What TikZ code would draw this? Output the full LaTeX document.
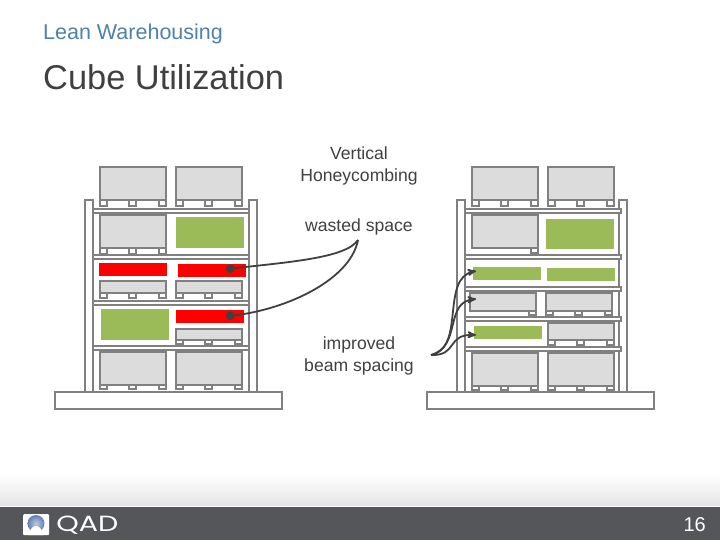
\documentclass[tikz,border=0pt]{standalone}
\usepackage{fontspec}
\setmainfont{Liberation Sans}
\newfontfamily\logofont{Poppins}
\usetikzlibrary{arrows}
\definecolor{rackgray}{HTML}{808080}
\definecolor{cratefill}{HTML}{DCDCDC}
\definecolor{spacegreen}{HTML}{9BBB59}
\definecolor{inkgray}{HTML}{404040}
\definecolor{headblue}{HTML}{4F81AD}
\definecolor{barGray}{HTML}{54565A}
\definecolor{ballblue}{HTML}{5F7FB5}
\tikzset{
	frame/.style={draw=rackgray,line width=2pt,fill=white},
	crate/.style={draw=rackgray,line width=2pt,fill=cratefill,inner sep=0pt,anchor=north west,minimum width=66pt},
	block/.style={inner sep=0pt,anchor=north west,minimum width=68pt},
	label/.style={text=inkgray,font=\fontsize{17.6}{22}\selectfont,align=center,inner sep=0pt},
	wastearrow/.style={-*,>=stealth',draw=inkgray,line width=1.8pt,shorten >=-1pt},
	gainarrow/.style={->,>=stealth',draw=inkgray,line width=1.8pt}
}
% feet under a crate: left, middle, right
\newcommand{\feet}[2]{
	\draw[frame] ([xshift=1pt,yshift=1pt]#1.south west) rectangle ++(7,#2);
	\draw[frame] ([xshift=30pt,yshift=1pt]#1.south west) rectangle ++(7,#2);
	\draw[frame] ([xshift=-8pt,yshift=1pt]#1.south east) rectangle ++(7,#2);
}
\newcommand{\crateat}[5]{
	\node[crate,minimum height=#4pt-2pt] (#1) at (#2+0.5,#3) {};
	\feet{#1}{#5}
}
\newcommand{\beam}[2]{\draw[frame] (#1+8,#2) rectangle ++(156,4);}
\begin{document}
\begin{tikzpicture}[x=1pt,y=-1pt]
	\useasboundingbox (0,0) rectangle (720,540);

	\node[anchor=west,inner sep=0pt,text=headblue,font=\fontsize{21.5}{24}\selectfont] (section) at (43,33.5) {Lean Warehousing};
	\node[anchor=west,inner sep=0pt,text=inkgray,font=\fontsize{34.4}{38}\selectfont] (title) at (43,77.5) {Cube Utilization};

	% left rack
	\draw[frame] (85,200) rectangle (93,392);
	\draw[frame] (249,200) rectangle (257,392);
	\crateat{la}{98}{166}{35}{6}
	\crateat{lb}{174}{166}{35}{6}
	\crateat{lc}{98}{214}{35}{6}
	\beam{85}{209}
	\beam{85}{255}
	\beam{85}{301}
	\beam{85}{346}
	\node[block,fill=spacegreen,minimum height=31pt] (lgreenone) at (176,217) {};
	\node[block,fill=red,minimum height=13pt] (lredone) at (99,263) {};
	\node[block,fill=red,minimum height=13pt] (lredtwo) at (178,264) {};
	\crateat{ld}{98}{280}{14}{5}
	\crateat{le}{174}{280}{14}{5}
	\node[block,fill=spacegreen,minimum height=31pt] (lgreentwo) at (101,309) {};
	\node[block,fill=red,minimum height=13pt] (lredthree) at (176,310) {};
	\crateat{lf}{174}{328}{13}{4}
	\crateat{lg}{98}{351}{35}{4}
	\crateat{lh}{174}{351}{35}{4}
	\draw[frame] (55,392) rectangle (282,409);

	% right rack
	\draw[frame] (457,200) rectangle (465,392);
	\draw[frame] (619,200) rectangle (627,392);
	\crateat{ra}{470}{166}{35}{6}
	\crateat{rb}{546}{166}{35}{6}
	\node[crate,minimum height=33pt] (rc) at (470.5,214) {};
	\draw[frame] ([xshift=-8pt,yshift=1pt]rc.south east) rectangle ++(7,5);
	\beam{457}{209}
	\beam{457}{255}
	\beam{457}{287}
	\beam{457}{317}
	\beam{457}{347}
	\node[block,fill=spacegreen,minimum height=30pt] (rgreenone) at (546,219) {};
	\node[block,fill=spacegreen,minimum height=13pt] (rgreentwo) at (473,267) {};
	\node[block,fill=spacegreen,minimum height=13pt] (rgreenthree) at (547,268) {};
	\node[crate,minimum height=18pt] (rd) at (468.5,292) {};
	\draw[frame] ([xshift=-8pt,yshift=1pt]rd.south east) rectangle ++(7,4);
	\crateat{re}{544}{292}{20}{4}
	\node[block,fill=spacegreen,minimum height=13pt] (rgreenfour) at (474,326) {};
	\crateat{rf}{546}{322}{19}{5}
	\crateat{rg}{470}{352}{35}{4}
	\crateat{rh}{546}{352}{35}{4}
	\draw[frame] (427,392) rectangle (654,409);

	% labels
	\node[label] (vertical) at (359,165.5) {Vertical\\Honeycombing};
	\node[label] (wasted) at (359,226.5) {wasted space};
	\node[label] (improved) at (359,355.5) {improved\\beam spacing};

	% connector ends
	\coordinate (wastetail) at (358,240);
	\coordinate (wasteone) at (227,269);
	\coordinate (wastetwo) at (227,316);
	\coordinate (gaintail) at (431,355);
	\coordinate (gainone) at (476,271);
	\coordinate (gaintwo) at (476,299);
	\coordinate (gainthree) at (476,335);

	\draw[wastearrow] (wastetail) .. controls (346,258) and (290,262) .. (wasteone);
	\draw[wastearrow] (wastetail) .. controls (350,282) and (280,312) .. (wastetwo);
	\draw[gainarrow] (gaintail) .. controls (466,348) and (440,278) .. (gainone);
	\draw[gainarrow] (gaintail) .. controls (462,346) and (444,302) .. (gaintwo);
	\draw[gainarrow] (gaintail) .. controls (458,356) and (446,334) .. (gainthree);

	% footer
	\shade[top color=white,bottom color=black!10] (0,474) rectangle (720,505);
	\fill[barGray] (0,507) rectangle (720,540);
	\node[fill=white,inner sep=0pt,minimum width=26pt,minimum height=21pt,anchor=north west,rounded corners=1pt] (logo) at (23,514) {};
	\shade[inner color=ballblue!40,outer color=ballblue] (36,523.5) circle (8.5);
	\fill[white] (28,535) .. controls (31,528) and (33,526) .. (36,526) .. controls (39,526) and (41,528) .. (44,535) -- cycle;
	\node[anchor=west,inner sep=0pt,text=white,font=\logofont\fontsize{22}{24}\selectfont,xscale=1.3] (qad) at (56,525) {QAD};
	\node[anchor=east,inner sep=0pt,text=white,font=\fontsize{20}{24}\selectfont] (page) at (706,524.5) {16};
\end{tikzpicture}
\end{document}
